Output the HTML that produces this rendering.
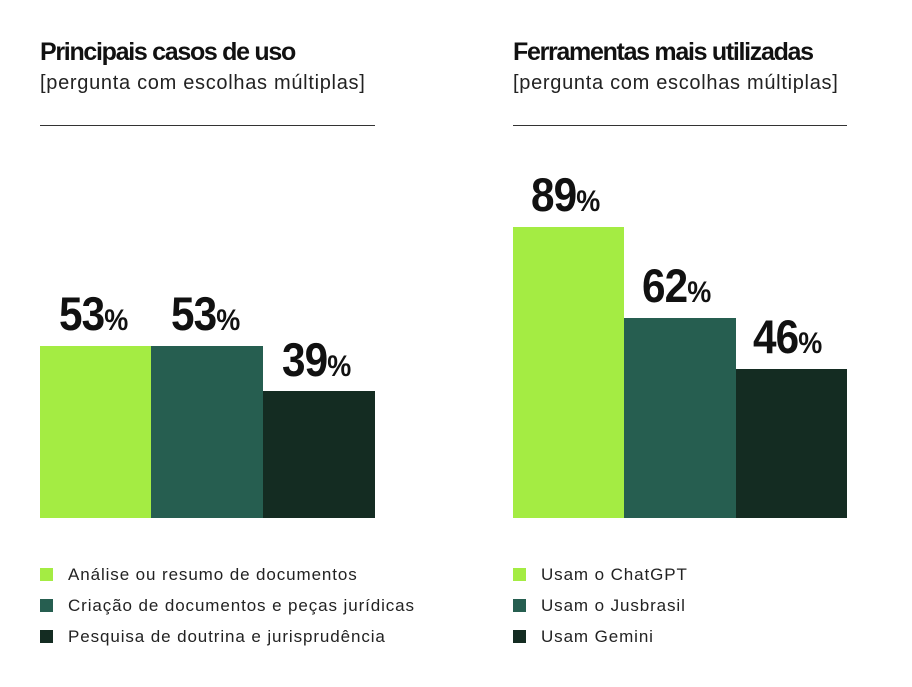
<!DOCTYPE html>
<html><head><meta charset="utf-8"><style>
body{margin:0;width:912px;height:687px;background:#fff;position:relative;overflow:hidden;font-family:"Liberation Sans",sans-serif;color:#111}
.a{position:absolute}
.t{font-weight:bold;font-size:25px;letter-spacing:-1.3px;white-space:nowrap}
.s{font-size:20px;letter-spacing:0.7px;color:#222;white-space:nowrap}
.l{height:1px;background:#333}
.b{position:absolute}
.n{position:absolute;font-weight:bold;font-size:47px;transform:scaleX(0.9);transform-origin:left bottom;white-space:nowrap;line-height:1;letter-spacing:-1px}
.n small{font-size:30px}
.g{position:absolute;width:13px;height:13px}
.lt{position:absolute;font-size:17px;letter-spacing:0.9px;color:#222;white-space:nowrap}
</style></head><body>
<div class="a t" style="left:40px;top:38px">Principais casos de uso</div>
<div class="a s" style="left:40px;top:72px">[pergunta com escolhas múltiplas]</div>
<div class="a l" style="left:40px;top:125px;width:335px"></div>
<div class="a t" style="left:513px;top:38px">Ferramentas mais utilizadas</div>
<div class="a s" style="left:513px;top:72px">[pergunta com escolhas múltiplas]</div>
<div class="a l" style="left:513px;top:125px;width:334px"></div>

<div class="b" style="left:40px;top:346px;width:111px;height:172px;background:#a4ec43"></div>
<div class="b" style="left:151px;top:346px;width:112px;height:172px;background:#265e50"></div>
<div class="b" style="left:263px;top:391px;width:112px;height:127px;background:#142c22"></div>
<div class="n" style="left:59px;top:290px">53<small>%</small></div>
<div class="n" style="left:171px;top:290px">53<small>%</small></div>
<div class="n" style="left:282px;top:336px">39<small>%</small></div>

<div class="b" style="left:513px;top:227px;width:111px;height:291px;background:#a4ec43"></div>
<div class="b" style="left:624px;top:318px;width:112px;height:200px;background:#265e50"></div>
<div class="b" style="left:736px;top:369px;width:111px;height:149px;background:#142c22"></div>
<div class="n" style="left:531px;top:171px">89<small>%</small></div>
<div class="n" style="left:642px;top:262px">62<small>%</small></div>
<div class="n" style="left:753px;top:313px">46<small>%</small></div>

<div class="g" style="left:40px;top:568px;background:#a4ec43"></div>
<div class="g" style="left:40px;top:599px;background:#265e50"></div>
<div class="g" style="left:40px;top:630px;background:#142c22"></div>
<div class="lt" style="left:68px;top:565px">Análise ou resumo de documentos</div>
<div class="lt" style="left:68px;top:596px">Criação de documentos e peças jurídicas</div>
<div class="lt" style="left:68px;top:627px">Pesquisa de doutrina e jurisprudência</div>

<div class="g" style="left:513px;top:568px;background:#a4ec43"></div>
<div class="g" style="left:513px;top:599px;background:#265e50"></div>
<div class="g" style="left:513px;top:630px;background:#142c22"></div>
<div class="lt" style="left:541px;top:565px">Usam o ChatGPT</div>
<div class="lt" style="left:541px;top:596px">Usam o Jusbrasil</div>
<div class="lt" style="left:541px;top:627px">Usam Gemini</div>
</body></html>
